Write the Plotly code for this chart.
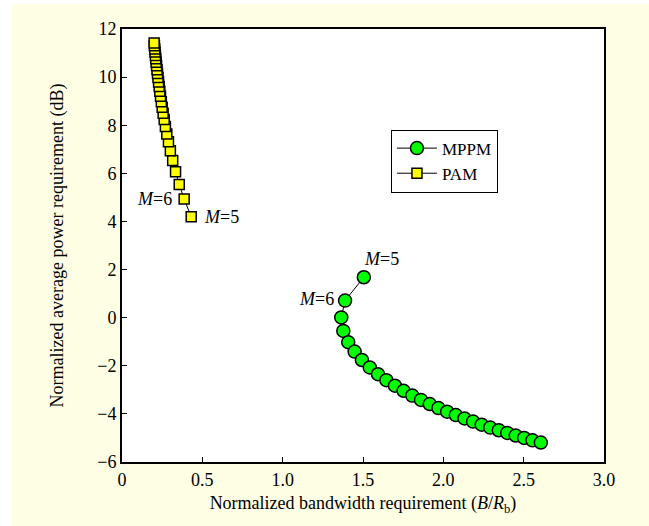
import plotly.graph_objects as go

# PAM (M = 5 ... 32)
pam_bw = [0.4307, 0.3869, 0.3562, 0.3333, 0.3155, 0.3010, 0.2891, 0.2789, 0.2702, 0.2626,
          0.2560, 0.2500, 0.2447, 0.2398, 0.2354, 0.2314, 0.2277, 0.2242, 0.2211, 0.2181,
          0.2153, 0.2127, 0.2103, 0.2080, 0.2058, 0.2038, 0.2018, 0.2000]
pam_pw = [4.19, 4.93, 5.54, 6.07, 6.53, 6.94, 7.31, 7.64, 7.95, 8.24,
          8.50, 8.75, 8.98, 9.20, 9.41, 9.61, 9.80, 9.98, 10.15, 10.31,
          10.47, 10.62, 10.76, 10.90, 11.04, 11.17, 11.30, 11.42]

# MPPM (M = 5 ... 32)
mppm_bw = [1.5052, 1.3883, 1.3647, 1.3775, 1.4080, 1.4478, 1.4933, 1.5421, 1.5932, 1.6455,
           1.6988, 1.7526, 1.8067, 1.8610, 1.9153, 1.9695, 2.0237, 2.0777, 2.1316, 2.1852,
           2.2386, 2.2919, 2.3449, 2.3977, 2.4503, 2.5027, 2.5548, 2.6067]
mppm_pw = [1.68, 0.71, 0.01, -0.55, -1.02, -1.41, -1.76, -2.07, -2.35, -2.60,
           -2.83, -3.04, -3.24, -3.42, -3.59, -3.76, -3.91, -4.05, -4.19, -4.32,
           -4.45, -4.57, -4.68, -4.79, -4.90, -5.00, -5.10, -5.19]

x_ticks = [0, 0.5, 1.0, 1.5, 2.0, 2.5, 3.0]
x_tick_labels = ["0", "0.5", "1.0", "1.5", "2.0", "2.5", "3.0"]
y_ticks = [-6, -4, -2, 0, 2, 4, 6, 8, 10, 12]

SERIF = "Liberation Serif, Times New Roman, serif"
BG = "#FEFEE4"

fig = go.Figure()
fig.add_trace(go.Scatter(
    x=mppm_bw, y=mppm_pw, mode="lines+markers", name="MPPM",
    line=dict(color="black", width=1),
    marker=dict(symbol="circle", size=13, color="#00FF00", line=dict(color="black", width=1.5)),
))
fig.add_trace(go.Scatter(
    x=pam_bw, y=pam_pw, mode="lines+markers", name="PAM",
    line=dict(color="black", width=1),
    marker=dict(symbol="square", size=10, color="#FFFF00", line=dict(color="black", width=1.5)),
))

ann_font = dict(family=SERIF, size=18, color="black")
fig.add_annotation(x=pam_bw[1], y=pam_pw[1], text="<i>M</i>=6", showarrow=False,
                   xanchor="right", yanchor="middle", xshift=-10, font=ann_font)
fig.add_annotation(x=pam_bw[0], y=pam_pw[0], text="<i>M</i>=5", showarrow=False,
                   xanchor="left", yanchor="middle", xshift=11, font=ann_font)
fig.add_annotation(x=mppm_bw[1], y=mppm_pw[1], text="<i>M</i>=6", showarrow=False,
                   xanchor="right", yanchor="middle", xshift=-9, yshift=2, font=ann_font)
fig.add_annotation(x=mppm_bw[0], y=mppm_pw[0], text="<i>M</i>=5", showarrow=False,
                   xanchor="left", yanchor="middle", xshift=-2, yshift=18, font=ann_font)

W, H = 649, 526
L, R, T, B = 122, 45, 29, 64
pw, ph = W - L - R, H - T - B
# white margin strips outside the yellow panel (left 12 px, top 4 px)
fig.add_shape(type="rect", xref="paper", yref="paper",
              x0=(0 - L) / pw - 0.01, x1=(12 - L) / pw, y0=-1, y1=2,
              fillcolor="white", line=dict(width=0), layer="below")
fig.add_shape(type="rect", xref="paper", yref="paper",
              x0=-1, x1=2, y0=(H - B - 4) / ph, y1=(H - B) / ph + 0.1,
              fillcolor="white", line=dict(width=0), layer="below")

axis_common = dict(showline=True, linecolor="black", linewidth=2, mirror=True,
                   ticks="inside", ticklen=5, tickcolor="black", tickwidth=1,
                   showgrid=False, zeroline=False, automargin=False,
                   tickfont=dict(family=SERIF, size=18, color="black"))

fig.update_layout(
    width=W, height=H,
    margin=dict(l=L, r=R, t=T, b=B, autoexpand=False),
    paper_bgcolor=BG, plot_bgcolor="white",
    font=dict(family=SERIF, size=18, color="black"),
    xaxis=dict(range=[0, 3.0], tickvals=x_ticks, ticktext=x_tick_labels,
               title=dict(text="Normalized bandwidth requirement (<i>B</i>/<i>R</i><sub>b</sub>)",
                          font=dict(family=SERIF, size=18), standoff=8),
               **axis_common),
    yaxis=dict(range=[-6, 12], tickvals=y_ticks,
               title=dict(text="Normalized average power requirement (dB)",
                          font=dict(family=SERIF, size=18), standoff=29),
               **axis_common),
    legend=dict(x=0.558, y=0.695, xanchor="left", yanchor="middle",
                bgcolor="white", bordercolor="black", borderwidth=1,
                font=dict(family=SERIF, size=17, color="black"),
                tracegroupgap=0, itemwidth=40),
    showlegend=True,
)

fig.write_html("out.html", config={"displayModeBar": False},
               post_script="document.body.style.margin='0';document.body.style.padding='0';")
